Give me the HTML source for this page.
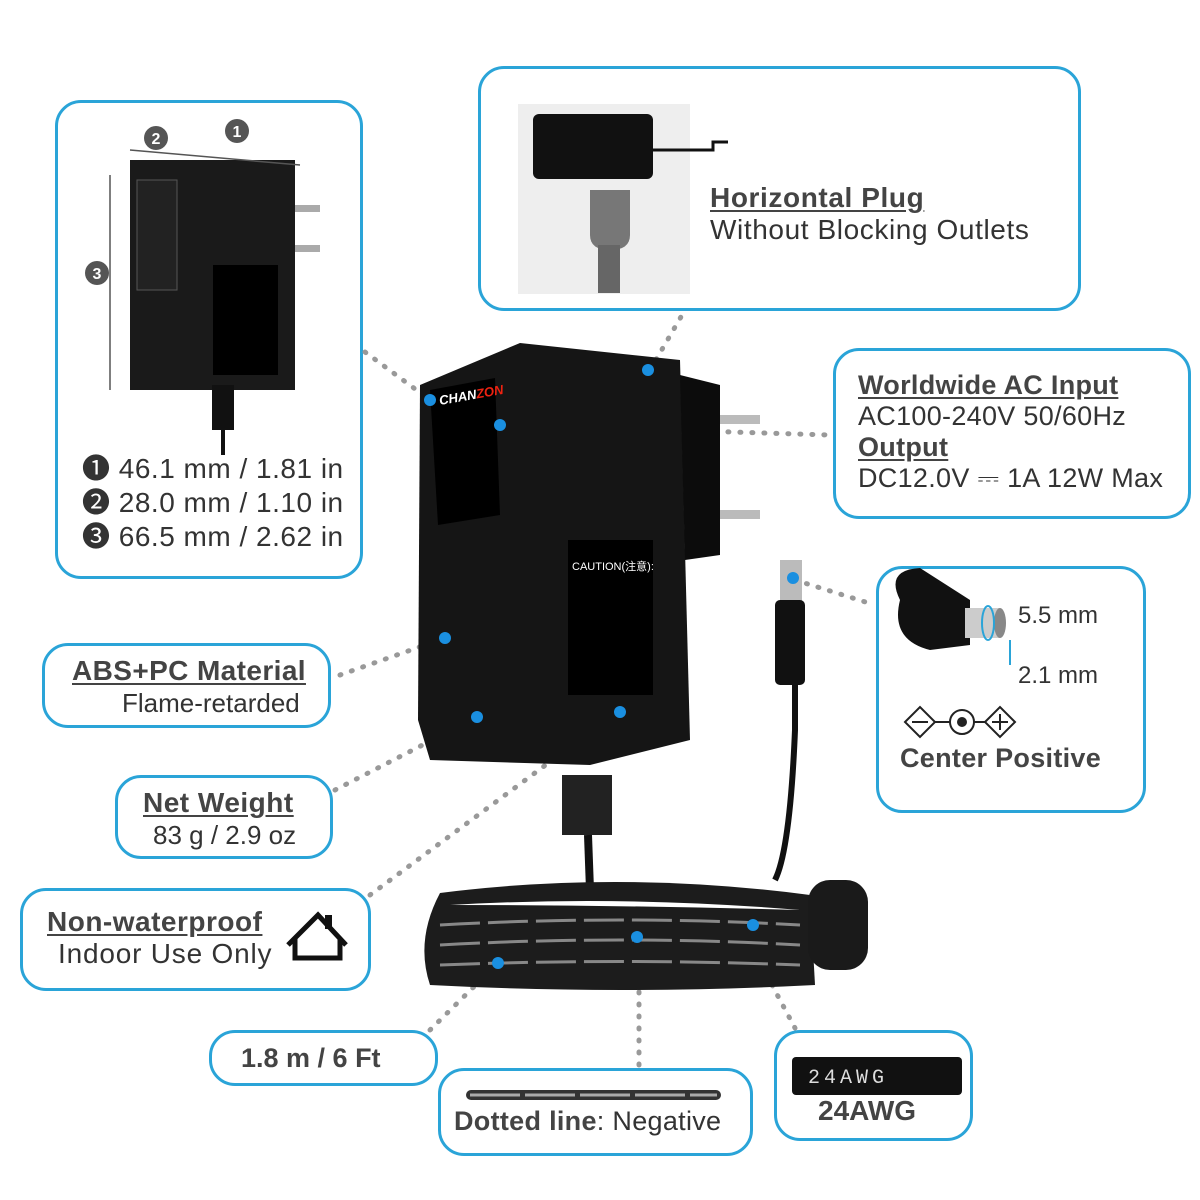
<!DOCTYPE html>
<html><head><meta charset="utf-8"><style>
body{margin:0;width:1200px;height:1200px;background:#fff;position:relative;overflow:hidden;font-family:"Liberation Sans","Noto Sans CJK SC",sans-serif}
.b{position:absolute;border:3px solid #2aa4d8;border-radius:26px;box-sizing:border-box;background:#fff}
.t{position:absolute;white-space:nowrap;color:#333}
.h{font-weight:bold;color:#444;text-decoration:underline;text-underline-offset:3px}
svg{position:absolute;left:0;top:0}
</style></head><body>
<div class="b" style="left:55px;top:100px;width:308px;height:479px"></div>
<div class="b" style="left:478px;top:66px;width:603px;height:245px"></div>
<div class="b" style="left:833px;top:348px;width:358px;height:171px"></div>
<div class="b" style="left:876px;top:566px;width:270px;height:247px"></div>
<div class="b" style="left:42px;top:643px;width:289px;height:85px"></div>
<div class="b" style="left:115px;top:775px;width:218px;height:84px"></div>
<div class="b" style="left:20px;top:888px;width:351px;height:103px"></div>
<div class="b" style="left:209px;top:1030px;width:229px;height:56px"></div>
<div class="b" style="left:438px;top:1068px;width:315px;height:88px"></div>
<div class="b" style="left:774px;top:1030px;width:199px;height:111px"></div>
<svg width="1200" height="1200">
<g stroke="#999" stroke-width="5" stroke-dasharray="1 11" stroke-linecap="round" fill="none">
<line x1="365" y1="352" x2="430" y2="400"/>
<line x1="650" y1="370" x2="685" y2="310"/>
<line x1="500" y1="425" x2="830" y2="435"/>
<line x1="795" y1="580" x2="875" y2="605"/>
<line x1="340" y1="675" x2="445" y2="638"/>
<line x1="335" y1="790" x2="477" y2="717"/>
<line x1="370" y1="895" x2="620" y2="710"/>
<line x1="430" y1="1030" x2="498" y2="963"/>
<line x1="639" y1="968" x2="639" y2="1066"/>
<line x1="772" y1="985" x2="795" y2="1028"/>
</g>
<rect x="130" y="160" width="165" height="230" fill="#1a1a1a"/>
<rect x="137" y="180" width="40" height="110" fill="#222" stroke="#555"/>
<rect x="213" y="265" width="65" height="110" fill="#000"/>
<rect x="295" y="205" width="25" height="7" fill="#aaa"/><rect x="295" y="245" width="25" height="7" fill="#aaa"/>
<rect x="212" y="385" width="22" height="45" fill="#111"/><line x1="223" y1="430" x2="223" y2="455" stroke="#111" stroke-width="4"/>
<g stroke="#555" stroke-width="1.5"><line x1="110" y1="175" x2="110" y2="390"/><line x1="130" y1="150" x2="300" y2="165"/></g>
<g fill="#555"><circle cx="156" cy="138" r="12"/><circle cx="237" cy="131" r="12"/><circle cx="97" cy="273" r="12"/></g>
<g fill="#fff" font-size="16" font-weight="bold" text-anchor="middle" font-family="Liberation Sans"><text x="156" y="144">2</text><text x="237" y="137">1</text><text x="97" y="279">3</text></g>
<rect x="518" y="104" width="172" height="190" fill="#eee"/>
<rect x="533" y="114" width="120" height="65" rx="6" fill="#111"/>
<path d="M590 190 h40 v45 q0 15 -20 15 q-20 0 -20 -15z" fill="#777"/><rect x="598" y="245" width="22" height="48" fill="#666"/>
<path d="M653 150 h60 v-8 h15" stroke="#111" stroke-width="3" fill="none"/>
<path d="M420 385 L520 343 L680 360 L690 740 L590 765 L430 760 L418 720Z" fill="#151515"/>
<path d="M680 375 L720 385 L720 555 L685 560Z" fill="#0c0c0c"/>
<rect x="720" y="415" width="40" height="9" fill="#bbb"/><rect x="720" y="510" width="40" height="9" fill="#bbb"/>
<path d="M430 390 L495 378 L500 515 L438 525Z" fill="#000"/>
<text x="440" y="405" font-size="13" fill="#fff" font-weight="bold" font-style="italic" transform="rotate(-10 440 405)">CHAN<tspan fill="#e21">ZON</tspan></text>
<rect x="568" y="540" width="85" height="155" fill="#000"/>
<text x="572" y="570" font-size="11" fill="#fff">CAUTION(注意):</text>
<rect x="562" y="775" width="50" height="60" fill="#222"/>
<line x1="588" y1="835" x2="590" y2="890" stroke="#111" stroke-width="8"/>
<path d="M795 595 L795 730 Q790 850 775 880" stroke="#111" stroke-width="6" fill="none"/>
<rect x="780" y="560" width="22" height="45" fill="#bbb"/><rect x="775" y="600" width="30" height="85" rx="5" fill="#111"/>
<path d="M440 893 Q620 870 810 895 L815 985 Q620 995 430 985 Q415 940 440 893Z" fill="#1c1c1c"/>
<path d="M450 905 Q620 895 800 910 Q620 905 450 905Z" fill="#fff"/>
<g stroke="#888" stroke-width="3" stroke-dasharray="40 8" fill="none">
<path d="M440 925 Q620 915 800 925"/><path d="M440 945 Q620 935 800 945"/><path d="M440 965 Q620 958 800 965"/>
</g>
<rect x="808" y="880" width="60" height="90" rx="22" fill="#1a1a1a"/>
<g fill="#1a8fe0">
<circle cx="430" cy="400" r="6"/><circle cx="648" cy="370" r="6"/><circle cx="500" cy="425" r="6"/><circle cx="445" cy="638" r="6"/><circle cx="477" cy="717" r="6"/><circle cx="620" cy="712" r="6"/><circle cx="793" cy="578" r="6"/><circle cx="753" cy="925" r="6"/><circle cx="637" cy="937" r="6"/><circle cx="498" cy="963" r="6"/>
</g>
<path d="M900 600 Q885 570 920 568 L970 600 L970 645 L930 650Q890 640 900 600Z" fill="#111"/>
<rect x="965" y="608" width="35" height="30" fill="#ccc"/><ellipse cx="1000" cy="623" rx="6" ry="15" fill="#888"/>
<g stroke="#2aa4d8" stroke-width="2" fill="none"><ellipse cx="988" cy="623" rx="6" ry="17"/><line x1="1010" y1="640" x2="1010" y2="665"/></g>
<g stroke="#222" stroke-width="2" fill="none"><path d="M905 722 l15 -15 l15 15 l-15 15z"/><circle cx="962" cy="722" r="12"/><path d="M985 722 l15 -15 l15 15 l-15 15z"/><line x1="912" y1="722" x2="928" y2="722"/><line x1="992" y1="722" x2="1008" y2="722"/><line x1="1000" y1="714" x2="1000" y2="730"/><line x1="935" y1="722" x2="950" y2="722"/><line x1="974" y1="722" x2="985" y2="722"/></g>
<circle cx="962" cy="722" r="5" fill="#222"/>
<path d="M288 945 L318 915 L346 945 M295 938 V958 H340 V938" stroke="#111" stroke-width="5" fill="none"/>
<rect x="325" y="915" width="7" height="14" fill="#111"/>
<rect x="466" y="1090" width="255" height="10" rx="5" fill="#333"/><line x1="470" y1="1095" x2="717" y2="1095" stroke="#aaa" stroke-width="3" stroke-dasharray="50 5"/>
<rect x="792" y="1057" width="170" height="38" rx="4" fill="#111"/>
<text x="808" y="1083" font-size="20" fill="#ddd" letter-spacing="4" font-family="Liberation Mono">24AWG</text>
</svg>
<div class="t" style="left:82px;top:452px;font-size:28px;line-height:34px;letter-spacing:0.5px">❶ 46.1 mm / 1.81 in<br>❷ 28.0 mm / 1.10 in<br>❸ 66.5 mm / 2.62 in</div>
<div class="t h" style="left:710px;top:182px;font-size:28px;letter-spacing:0.6px">Horizontal Plug</div>
<div class="t" style="left:710px;top:214px;font-size:28px;letter-spacing:0.6px">Without Blocking Outlets</div>
<div class="t" style="left:858px;top:370px;font-size:27px;line-height:31px;letter-spacing:0.3px"><span class="h">Worldwide AC Input </span><br>AC100-240V 50/60Hz<br><span class="h">Output</span><br>DC12.0V ⎓ 1A 12W Max</div>
<div class="t" style="left:1018px;top:602px;font-size:24px">5.5 mm</div>
<div class="t" style="left:1018px;top:662px;font-size:24px">2.1 mm</div>
<div class="t" style="left:900px;top:743px;font-size:27px;font-weight:bold;color:#444;letter-spacing:0.3px">Center Positive</div>
<div class="t h" style="left:72px;top:655px;font-size:28px;letter-spacing:0.4px">ABS+PC Material</div>
<div class="t" style="left:122px;top:688px;font-size:26px">Flame-retarded</div>
<div class="t h" style="left:143px;top:787px;font-size:28px;letter-spacing:0.5px">Net Weight</div>
<div class="t" style="left:153px;top:820px;font-size:26px">83 g / 2.9 oz</div>
<div class="t h" style="left:47px;top:906px;font-size:28px;letter-spacing:0.5px">Non-waterproof</div>
<div class="t" style="left:58px;top:938px;font-size:28px;letter-spacing:0.8px">Indoor Use Only</div>
<div class="t" style="left:241px;top:1043px;font-size:27px;font-weight:bold;color:#444">1.8 m / 6 Ft</div>
<div class="t" style="left:454px;top:1106px;font-size:27px;letter-spacing:0.3px"><b style="color:#444">Dotted line</b>: Negative</div>
<div class="t" style="left:818px;top:1095px;font-size:28px;font-weight:bold;color:#444">24AWG</div>
</body></html>
